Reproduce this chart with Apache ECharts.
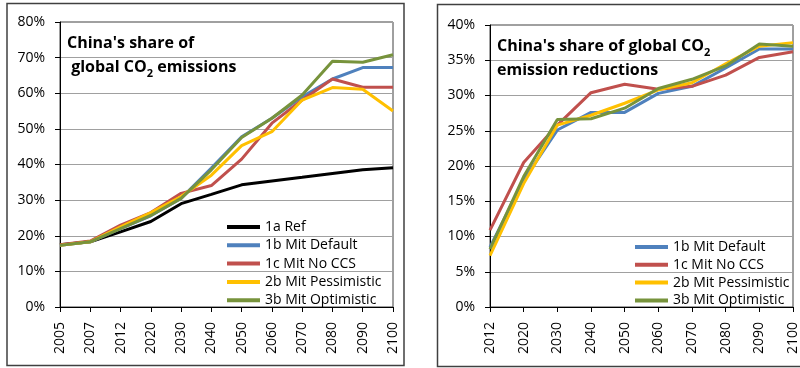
<!DOCTYPE html>
<html>
<head>
<meta charset="utf-8">
<script src="https://cdn.jsdelivr.net/npm/echarts@6/dist/echarts.min.js"></script>
<style>
    html, body { margin: 0; padding: 0; background: #fff; }
    #chart { width: 800px; height: 368px; }
</style>
</head>
<body>
<div id="chart"></div>
<script>
    // 左图：中国占全球CO2排放的份额
    var yearsA = ['2005', '2007', '2012', '2020', '2030', '2040', '2050', '2060', '2070', '2080', '2090', '2100'];
    var refA = [17.5, 18.3, 21.1, 24.0, 29.0, 31.6, 34.3, 35.4, 36.4, 37.5, 38.5, 39.1];
    var defaultA = [17.3, 18.3, 22.0, 25.6, 30.5, 39.0, 47.8, 53.0, 59.0, 64.0, 67.2, 67.2];
    var noCcsA = [17.5, 18.5, 23.0, 26.5, 31.9, 34.1, 41.5, 51.6, 58.1, 64.0, 61.7, 61.7];
    var pessA = [17.3, 18.3, 22.5, 26.5, 31.0, 37.0, 45.3, 49.2, 58.1, 61.6, 61.1, 55.0];
    var optA = [17.3, 18.3, 22.0, 25.7, 30.5, 38.5, 47.6, 53.0, 59.5, 69.0, 68.7, 70.8];

    // 右图：中国占全球CO2减排的份额
    var yearsB = ['2012', '2020', '2030', '2040', '2050', '2060', '2070', '2080', '2090', '2100'];
    var defaultB = [8.5, 18.0, 25.1, 27.6, 27.6, 30.3, 31.3, 33.9, 36.6, 36.6];
    var noCcsB = [10.9, 20.5, 25.8, 30.4, 31.6, 30.9, 31.3, 32.9, 35.4, 36.2];
    var pessB = [7.3, 17.5, 25.8, 27.2, 28.9, 30.8, 31.8, 34.5, 37.0, 37.5];
    var optB = [8.2, 18.5, 26.6, 26.7, 28.2, 31.0, 32.3, 34.2, 37.3, 37.0];

    var names = ['1a Ref', '1b Mit Default', '1c Mit No CCS', '2b Mit Pessimistic', '3b Mit Optimistic'];
    var colors = ['#000000', '#4F81BD', '#C0504D', '#FFC000', '#77933C'];

    var FONT = '"Open Sans", Lato, sans-serif';

    var myChart = echarts.init(document.getElementById('chart'), null, { renderer: 'canvas' });

    function line(name, data, idx) {
        return {
            name: name,
            type: 'line',
            xAxisIndex: idx,
            yAxisIndex: idx,
            data: data,
            symbol: 'none',
            color: colors[names.indexOf(name)],
            lineStyle: { width: 3, color: colors[names.indexOf(name)] },
            z: 3
        };
    }

    function xAxis(data, idx) {
        return {
            type: 'category',
            gridIndex: idx,
            data: data,
            boundaryGap: false,
            axisLine: { lineStyle: { color: '#000', width: 1 } },
            axisTick: { show: true, length: 5, alignWithLabel: true, lineStyle: { color: '#000' } },
            axisLabel: { rotate: 90, margin: 15, color: '#000', fontSize: 14, fontFamily: FONT, interval: 0 },
            splitLine: { show: false }
        };
    }

    function yAxis(max, step, idx) {
        return {
            type: 'value',
            gridIndex: idx,
            min: 0,
            max: max,
            interval: step,
            axisLine: { show: true, lineStyle: { color: '#000', width: 1 } },
            axisTick: { show: true, length: 5, lineStyle: { color: '#000' } },
            axisLabel: { formatter: '{value}%', margin: 15, color: '#000', fontSize: 14, fontFamily: FONT },
            splitLine: { show: true, lineStyle: { color: '#A0A0A0', width: 1 } }
        };
    }

    var titleRich = {
        a: { fontSize: 16, fontWeight: 'bold', fontFamily: FONT, color: '#000', lineHeight: 24 },
        s: { fontSize: 11, fontWeight: 'bold', fontFamily: FONT, color: '#000', lineHeight: 12, verticalAlign: 'bottom' }
    };

    var legendText = { fontSize: 14, fontFamily: FONT, color: '#000', lineHeight: 16 };

    var option = {
        animation: false,
        backgroundColor: '#fff',
        title: [{
            text: '{a|China\'s share of}\n{a| global CO}{s|2}{a| emissions}',
            left: 67,
            top: 31,
            padding: 0,
            textStyle: { rich: titleRich }
        }, {
            text: '{a|China\'s share of global CO}{s|2}\n{a|emission reductions}',
            left: 497,
            top: 34,
            padding: 0,
            textStyle: { rich: titleRich }
        }],
        legend: [{
            data: names,
            orient: 'vertical',
            left: 227,
            top: 219,
            padding: 0,
            icon: 'rect',
            itemWidth: 33,
            itemHeight: 4,
            itemGap: 2.3,
            textStyle: legendText,
            selectedMode: false
        }, {
            data: names.slice(1),
            orient: 'vertical',
            left: 635,
            top: 239,
            padding: 0,
            icon: 'rect',
            itemWidth: 33,
            itemHeight: 4,
            itemGap: 1.8,
            textStyle: legendText,
            selectedMode: false
        }],
        grid: [{
            left: 60, top: 22, width: 333, height: 285,
            show: true, borderColor: '#404040', borderWidth: 1
        }, {
            left: 490, top: 25, width: 309, height: 282,
            show: true, borderColor: '#404040', borderWidth: 1
        }],
        xAxis: [xAxis(yearsA, 0), xAxis(yearsB, 1)],
        yAxis: [yAxis(80, 10, 0), yAxis(40, 5, 1)],
        series: [
            line('1a Ref', refA, 0),
            line('1b Mit Default', defaultA, 0),
            line('1c Mit No CCS', noCcsA, 0),
            line('2b Mit Pessimistic', pessA, 0),
            line('3b Mit Optimistic', optA, 0),
            line('1b Mit Default', defaultB, 1),
            line('1c Mit No CCS', noCcsB, 1),
            line('2b Mit Pessimistic', pessB, 1),
            line('3b Mit Optimistic', optB, 1)
        ],
        // 图表外框
        graphic: [{
            type: 'rect',
            shape: { x: 7, y: 3.5, width: 397, height: 362 },
            style: { fill: 'none', stroke: '#404040', lineWidth: 1.5 },
            silent: true
        }, {
            type: 'rect',
            shape: { x: 437.5, y: 4.5, width: 380, height: 362 },
            style: { fill: 'none', stroke: '#404040', lineWidth: 1.5 },
            silent: true
        }]
    };

    myChart.setOption(option);
</script>
</body>
</html>
